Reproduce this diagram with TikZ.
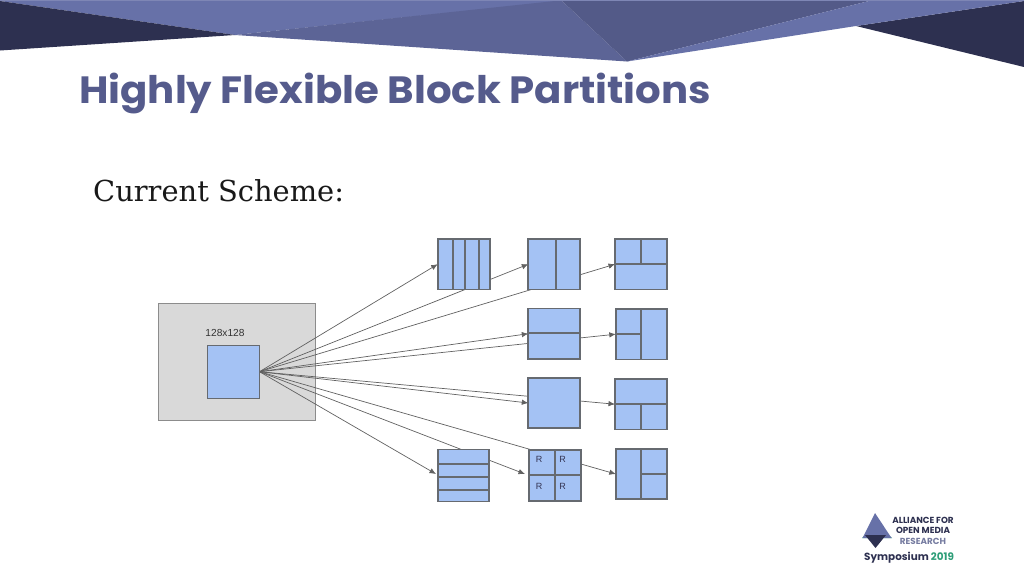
\documentclass[tikz,border=0pt]{standalone}
\usepackage{fontspec}
\setmainfont{Liberation Sans}
\newfontfamily\titlefont{Poppins}[FakeStretch=1.06]
\newfontfamily\logofont{Poppins}
\newfontfamily\slabfont{DejaVu Serif}
\usetikzlibrary{backgrounds,arrows.meta}
\definecolor{bannerlight}{HTML}{6771A8}
\definecolor{bannermid}{HTML}{5C6496}
\definecolor{bannerdark}{HTML}{535A88}
\definecolor{bannernavy}{HTML}{2D3050}
\definecolor{titleblue}{HTML}{555B8C}
\definecolor{blockblue}{HTML}{A4C2F4}
\definecolor{blockedge}{HTML}{666A70}
\definecolor{logogreen}{HTML}{2E9E78}
\tikzset{
  pbox/.style={draw=blockedge, line width=1.8pt, fill=blockblue, inner sep=0pt, outer sep=0pt, minimum width=52pt, minimum height=50.5pt},
  pline/.style={draw=blockedge, line width=1.8pt},
  parrow/.style={draw=black!62, line width=0.7pt, -{Latex[length=6.5pt,width=5.5pt]}},
  rlabel/.style={font=\fontsize{9}{9}\selectfont, text=blue!15!black!80, inner sep=0pt},
  logotext/.style={font=\logofont\bfseries\fontsize{8.8}{8.8}\selectfont, inner sep=0pt}
}
\begin{document}
\begin{tikzpicture}[x=1pt, y=-1pt]
   \useasboundingbox (0,0) rectangle (1024,576);
   % blocks
   \node [pbox, draw=blockedge, line width=0.9pt, minimum height=53pt] (src) at (233.5,371.7) {};
   \node [pbox] (a1) at (463.7,264.2) {};
   \node [pbox] (a2) at (554.3,264.2) {};
   \node [pbox] (a3) at (641,264.2) {};
   \node [pbox] (b2) at (554.3,333.7) {};
   \node [pbox, minimum width=51pt] (b3) at (641.3,334.2) {};
   \node [pbox] (c2) at (554.3,403) {};
   \node [pbox] (c3) at (641,404.2) {};
   \node [pbox, minimum width=51pt, minimum height=52pt] (d1) at (463.4,475.5) {};
   \node [pbox] (d2) at (555,475.5) {};
   \node [pbox, minimum width=51pt] (d3) at (641.3,474) {};
   \coordinate (d1in) at (436,474);
   \coordinate (d2in) at (525,474);
   % splits
   \foreach \x in {452.7,465.3,478.7}
      \draw [pline] (\x,239) -- (\x,289.5);
   \draw [pline] (556,239) -- (556,289.5);
   \draw [pline] (641,239) -- (641,264.3);
   \draw [pline] (615,264.3) -- (667,264.3);
   \draw [pline] (528,333.3) -- (580.5,333.3);
   \draw [pline] (641,308.5) -- (641,359.5);
   \draw [pline] (616,333.7) -- (641,333.7);
   \draw [pline] (615,404) -- (667,404);
   \draw [pline] (641,404) -- (641,429.5);
   \foreach \y in {464,477.3,490.3}
      \draw [pline] (437.7,\y) -- (489,\y);
   \draw [pline] (555,450) -- (555,501);
   \draw [pline] (529,475.3) -- (581,475.3);
   \draw [pline] (641,448.5) -- (641,499.5);
   \draw [pline] (641,473.7) -- (667,473.7);
   % labels
   \node [rlabel] (r1) at (539,459.7) {R};
   \node [rlabel] (r2) at (562.7,459.7) {R};
   \node [rlabel] (r3) at (539,486.7) {R};
   \node [rlabel] (r4) at (562.7,486.7) {R};
   \node [font=\fontsize{10.2}{10.2}\selectfont, text=black!80, inner sep=0pt] (size) at (225,332.5) {128x128};
   \node [font=\titlefont\bfseries\fontsize{38}{38}\selectfont, text=titleblue, anchor=base west, inner sep=0pt] (title) at (79,103) {Highly Flexible Block Partitions};
   \node [font=\slabfont\fontsize{28.9}{28.9}\selectfont, text=black!90, anchor=base west, inner sep=0pt] (scheme) at (93,201) {Current Scheme:};
   % logo
   \fill [logogreen] (862,538) -- (875,525) -- (892,538) -- cycle;
   \fill [bannerlight] (875,513) -- (862.5,538) -- (891.5,538) -- cycle;
   \fill [bannernavy] (865,535) -- (886,535) -- (875.5,548) -- cycle;
   \node [logotext, text=bannernavy] (allianc) at (923,520) {ALLIANCE FOR};
   \node [logotext, text=bannernavy] (omedia) at (923,530) {OPEN MEDIA};
   \node [logotext, text=bannerdark!80] (resrch) at (923,541) {RESEARCH};
   \node [font=\logofont\bfseries\fontsize{10.4}{10.4}\selectfont, anchor=base west, inner sep=0pt, text=bannernavy] (symp) at (864,560) {Symposium \textcolor{logogreen}{2019}};
   \begin{scope}[on background layer]
      % banner
      \fill [bannerlight!85!white] (0,0) rectangle (1024,1);
      \fill [bannerlight] (0,1) -- (235,35) -- (562,1) -- cycle;
      \fill [bannernavy] (0,1) -- (0,50.5) -- (235,35) -- cycle;
      \fill [bannernavy] (1024,1) -- (1024,67) -- (856,26) -- cycle;
      \fill [bannermid] (235,35) -- (627,61.5) -- (562,1) -- (555,1) -- cycle;
      \fill [bannerdark] (562,1) -- (869,1) -- (627,61.5) -- cycle;
      \fill [bannerlight] (869,1) -- (1024,1) -- (856,26) -- (627,61.5) -- cycle;
      % frame
      \node [draw=black!45, fill=black!15, line width=0.8pt, inner sep=0pt, outer sep=0pt, minimum width=157pt, minimum height=117pt] (frame) at (237,361.5) {};
      % arrows
      \draw [parrow] (src.east) -- (a1.west);
      \draw [parrow] (src.east) -- (a2.west);
      \draw [parrow] (src.east) -- (a3.west);
      \draw [parrow] (src.east) -- (b2.west);
      \draw [parrow] (src.east) -- (b3.west);
      \draw [parrow] (src.east) -- (c2.west);
      \draw [parrow] (src.east) -- (c3.west);
      \draw [parrow] (src.east) -- (d1in);
      \draw [parrow] (src.east) -- (d2in);
      \draw [parrow] (src.east) -- (d3.west);
   \end{scope}
\end{tikzpicture}
\end{document}
